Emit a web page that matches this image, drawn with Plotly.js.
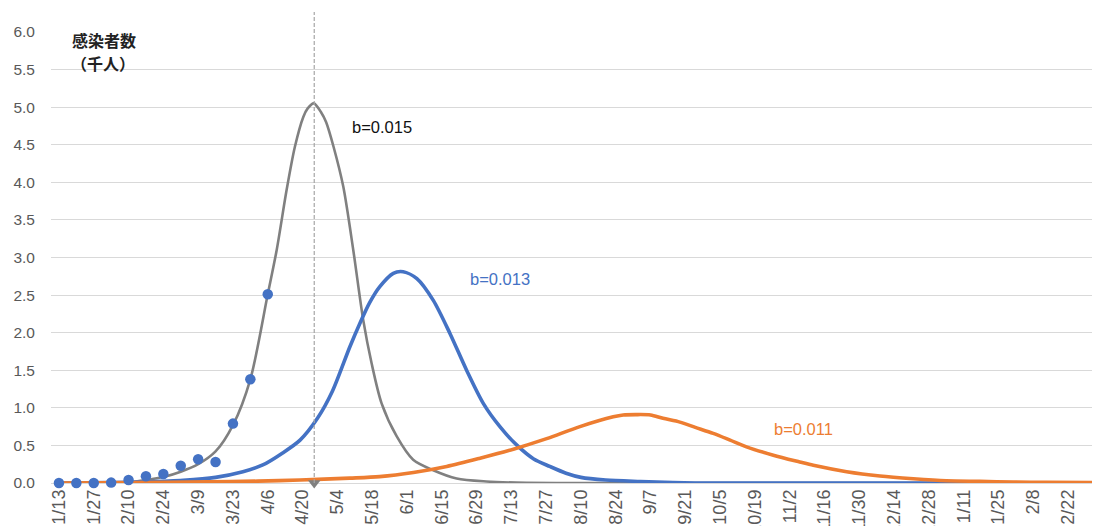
<!DOCTYPE html>
<html>
<head>
<meta charset="utf-8">
<script src="https://cdn.plot.ly/plotly-3.0.1.min.js"></script>
<style>
html, body { margin: 0; padding: 0; overflow: hidden; background: #fff; }
#chart { width: 1099px; height: 526px; }
</style>
</head>
<body>
<div id="chart"></div>
<script>
// ---- data (x = days since 2020-01-13) ----
const tickDays = [0,14,28,42,56,70,84,98,112,126,140,154,168,182,196,210,224,238,252,266,280,294,308,322,336,350,364,378,392,406];
const tickLabels = ["1/13","1/27","2/10","2/24","3/9","3/23","4/6","4/20","5/4","5/18","6/1","6/15","6/29","7/13","7/27","8/10","8/24","9/7","9/21","10/5","10/19","11/2","11/16","11/30","12/14","12/28","1/11","1/25","2/8","2/22"];

// observed weekly infections (thousands)
const obsDays = [0,7,14,21,28,35,42,49,56,63,70,77,84];
const obsVals = [0.0,0.0,0.0,0.005,0.04,0.09,0.12,0.23,0.315,0.28,0.79,1.38,2.51];

// model b=0.015 (gray)
const grayDays = [0,14,21,28,35,42,49,56,63,70,77,84,87.6,91.6,94.9,98.3,100,102.5,105.5,107.5,110.5,114.4,118.4,122.4,125.8,129.8,135.9,142.5,150.6,160,172,184,200,260,415];
const grayVals = [0,0,0,0.01,0.04,0.08,0.15,0.25,0.42,0.77,1.38,2.51,3.10,3.90,4.47,4.87,4.98,5.05,4.93,4.80,4.47,3.94,3.10,2.17,1.59,1.06,0.62,0.31,0.17,0.06,0.02,0.005,0,0,0];

// model b=0.013 (blue)
const blueDays = [0,21,35,50,63,74,82,90,97,104,110,117,121,125,129,134.5,138.5,144,150.6,157.3,164,170.7,177.4,184,191,197.5,204,210,220,234,247,260,300,415];
const blueVals = [0,0.005,0.015,0.035,0.075,0.15,0.24,0.40,0.57,0.86,1.22,1.81,2.12,2.40,2.61,2.79,2.81,2.72,2.43,1.99,1.50,1.06,0.75,0.51,0.32,0.22,0.13,0.075,0.04,0.02,0.005,0,0,0];

// model b=0.011 (orange)
const orangeDays = [0,30,60,80,97,117,129,142.6,156,169.4,182.8,196.2,209.6,223,227,232,238,243,249.8,256,263.2,270,276.6,287.4,298,303.5,316.9,330.3,343.7,357,370.5,383.9,397.3,418];
const orangeVals = [0,0.005,0.015,0.025,0.04,0.065,0.085,0.14,0.22,0.33,0.45,0.59,0.75,0.88,0.905,0.91,0.905,0.86,0.81,0.74,0.66,0.57,0.48,0.37,0.28,0.235,0.15,0.093,0.057,0.03,0.022,0.013,0.009,0.005];

// peak-date marker
const markerDay = 102.7;

const seriesLabels = ["b=0.015","b=0.013","b=0.011"];
const yTitleLines = ["感染者数","（千人）"];

// ---- styling ----
const FONT = '"Liberation Sans", Arial, "DejaVu Sans", sans-serif';
const CJK = '"Noto Sans CJK JP", "Noto Sans", sans-serif';
const GRID = '#D9D9D9';
const TICK = '#595959';
const GRAY = '#808080';
const BLUE = '#4472C4';
const ORANGE = '#ED7D31';

const L = 51, R = 7, T = 32, B = 43, W = 1099, H = 526;
const XR = [-3.2, 415.6];
const px2paperX = px => (px - L) / (W - L - R);
const px2paperY = py => (H - B - py) / (H - T - B);
const day2paper = d => (d - XR[0]) / (XR[1] - XR[0]);

const traces = [
  {x: grayDays, y: grayVals, type: 'scatter', mode: 'lines',
   line: {color: GRAY, width: 2.6, shape: 'spline', smoothing: 0.8}, hoverinfo: 'skip'},
  {x: blueDays, y: blueVals, type: 'scatter', mode: 'lines',
   line: {color: BLUE, width: 3.6, shape: 'spline', smoothing: 0.8}, hoverinfo: 'skip'},
  {x: orangeDays, y: orangeVals, type: 'scatter', mode: 'lines',
   line: {color: ORANGE, width: 3.6, shape: 'spline', smoothing: 0.8}, hoverinfo: 'skip'},
  {x: obsDays, y: obsVals, type: 'scatter', mode: 'markers',
   marker: {color: BLUE, size: 10.5}, cliponaxis: false, hoverinfo: 'skip'},
  {x: [markerDay], y: [0], type: 'scatter', mode: 'markers',
   marker: {symbol: 'triangle-down', size: 11, color: GRAY},
   cliponaxis: false, hoverinfo: 'skip'}
];

const layout = {
  width: W, height: H,
  margin: {l: L, r: R, t: T, b: B, pad: 0},
  paper_bgcolor: '#fff', plot_bgcolor: '#fff',
  showlegend: false,
  font: {family: FONT, color: TICK},
  xaxis: {
    range: XR, autorange: false,
    tickmode: 'array', tickvals: tickDays, ticktext: tickLabels,
    tickangle: -90, tickfont: {size: 18, color: TICK, family: FONT},
    showgrid: false, zeroline: false, showline: false, ticks: '',
    automargin: false, ticklabelstandoff: 2
  },
  yaxis: {
    range: [0, 6], autorange: false, dtick: 0.5, tick0: 0, tickformat: '.1f',
    tickfont: {size: 15.5, color: TICK, family: FONT},
    showgrid: true, gridcolor: GRID, gridwidth: 1,
    zeroline: true, zerolinecolor: GRID, zerolinewidth: 1,
    showline: false, ticks: '', automargin: false, ticklabelstandoff: 15
  },
  shapes: [
    {type: 'line', xref: 'paper', yref: 'paper',
     x0: day2paper(markerDay), x1: day2paper(markerDay),
     y0: 0, y1: px2paperY(12),
     line: {color: '#A6A6A6', width: 1.2, dash: '4px,2px'}, layer: 'above'}
  ],
  annotations: [
    {xref: 'paper', yref: 'paper', x: px2paperX(104), y: px2paperY(40), xanchor: 'center', yanchor: 'middle',
     text: '<b>' + yTitleLines[0] + '</b>', showarrow: false,
     font: {family: CJK, size: 16, color: '#222'}},
    {xref: 'paper', yref: 'paper', x: px2paperX(103), y: px2paperY(63), xanchor: 'center', yanchor: 'middle',
     text: '<b>' + yTitleLines[1] + '</b>', showarrow: false,
     font: {family: CJK, size: 16, color: '#222'}},
    {xref: 'x', yref: 'y', x: 117.1, y: 4.73, xanchor: 'left', yanchor: 'middle',
     text: seriesLabels[0], showarrow: false, font: {family: FONT, size: 16.5, color: '#111'}},
    {xref: 'x', yref: 'y', x: 164.5, y: 2.71, xanchor: 'left', yanchor: 'middle',
     text: seriesLabels[1], showarrow: false, font: {family: FONT, size: 16.5, color: BLUE}},
    {xref: 'x', yref: 'y', x: 286.8, y: 0.72, xanchor: 'left', yanchor: 'middle',
     text: seriesLabels[2], showarrow: false, font: {family: FONT, size: 16.5, color: ORANGE}}
  ]
};

Plotly.newPlot('chart', traces, layout, {displayModeBar: false, staticPlot: true});
</script>
</body>
</html>
